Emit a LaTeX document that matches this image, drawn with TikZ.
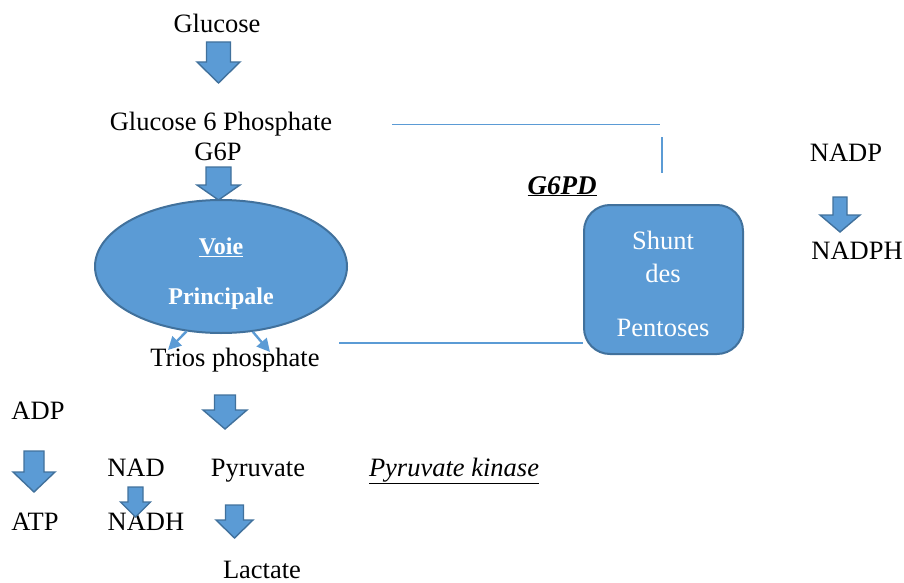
\documentclass[tikz,border=0pt]{standalone}
\usepackage{fontspec}
\setmainfont{Liberation Serif}
\usetikzlibrary{shapes.geometric,arrows.meta}
\definecolor{bleu}{HTML}{5B9BD5}
\definecolor{bord}{HTML}{41719C}
\tikzset{
  lbl/.style={inner sep=0pt,anchor=base,font=\fontsize{26.5}{30}\selectfont},
  wlbl/.style={lbl,text=white},
  blk/.style={fill=bleu,draw=bord,line width=1.4pt,line join=miter},
  trait/.style={draw=bleu,line width=1.2pt},
  fleche/.style={draw=bleu,line width=2.4pt,-{Triangle[length=13pt,width=13pt]}}
}
% block arrow: cx, top, neck, tip, shaft half width, head half width
\newcommand{\blkarrow}[6]{%
  \draw[blk] (#1-#5,#2)--(#1+#5,#2)--(#1+#5,#3)--(#1+#6,#3)--(#1,#4)--(#1-#6,#3)--(#1-#5,#3)--cycle;}

\begin{document}
\begin{tikzpicture}[x=1pt,y=-1pt]
\useasboundingbox (0,0) rectangle (904,583);
% main pathway
\node[lbl] (glc) at (217,33) {Glucose};
\blkarrow{218.5}{42}{62}{83}{12}{21.5}
\node[lbl] (g6p) at (221,130) {Glucose 6 Phosphate};
\node[lbl] (g6pb) at (218,160) {G6P};
\blkarrow{218.5}{167}{185}{200}{12.5}{21.5}
\node[ellipse,fill=bleu,draw=bord,line width=2pt,minimum width=252pt,minimum height=133pt,inner sep=0pt] (voie) at (221,266.5) {};
\node[wlbl,font=\fontsize{24}{28}\selectfont\bfseries] (voie1) at (221,254) {\underline{Voie}};
\node[wlbl,font=\fontsize{24}{28}\selectfont\bfseries] (voie2) at (221,304) {Principale};
\coordinate (tl) at (168,350);
\coordinate (tr) at (270,352);
\draw[fleche] (voie.242)--(tl);
\draw[fleche] (voie.296)--(tr);
\node[lbl] (trios) at (235,366) {Trios phosphate};
% pentose shunt
\node[fill=bleu,draw=bord,line width=2pt,rounded corners=26pt,minimum width=159pt,minimum height=149pt] (shunt) at (663.5,279.5) {};
\node[wlbl] (s1) at (663,249) {Shunt};
\node[wlbl] (s2) at (663,282) {des};
\node[wlbl] (s3) at (663,336) {Pentoses};
\node[lbl,font=\fontsize{27}{30}\selectfont\bfseries\itshape] (g6pd) at (562,194) {\underline{G6PD}};
\coordinate (h1) at (392,124.5);
\coordinate (h2) at (660,124.5);
\coordinate (v1) at (662,137);
\coordinate (v2) at (662,173);
\coordinate (b1) at (339,343);
\draw[trait] (h1)--(h2);
\draw[trait] (v1)--(v2);
\draw[trait] (b1)--(b1-|shunt.west);
\node[lbl] (nadp) at (846,161) {NADP};
\blkarrow{840}{197}{215}{232}{7}{20}
\node[lbl] (nadph) at (857,259) {NADPH};
% glycolysis end
\blkarrow{225}{395}{410}{429}{10.5}{22}
\node[lbl] (adp) at (38,419) {ADP};
\blkarrow{34}{451}{472}{492}{10}{21}
\node[lbl] (atp) at (35,530) {ATP};
\node[lbl] (nad) at (136,476) {NAD};
\node[lbl] (nadh) at (146,530) {NADH};
\blkarrow{135.5}{487}{502}{517}{7.5}{15}
\node[lbl] (pyr) at (258,476) {Pyruvate};
\node[lbl,font=\fontsize{26.5}{30}\selectfont\itshape] (pk) at (454,476) {\underline{Pyruvate kinase}};
\blkarrow{234.5}{505}{520}{538}{9}{18.5}
\node[lbl] (lac) at (262,578) {Lactate};
\end{tikzpicture}
\end{document}
